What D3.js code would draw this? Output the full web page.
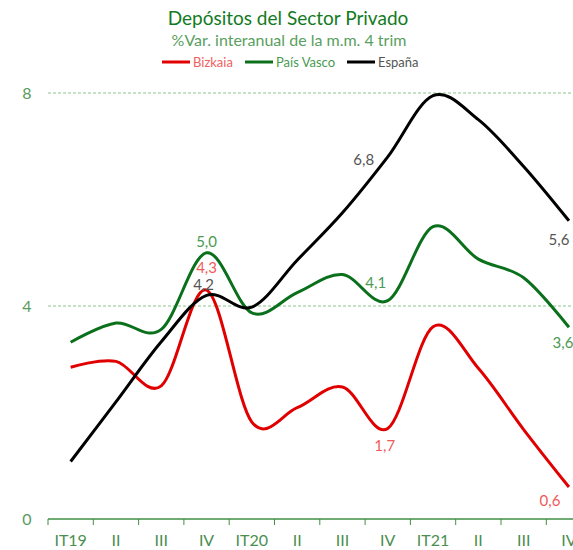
<!DOCTYPE html>
<html>
<head>
<meta charset="utf-8">
<style>
  body { margin: 0; background: #fff; }
  text { font-family: Lato, "Open Sans", sans-serif; }
</style>
</head>
<body>
<script src="https://d3js.org/d3.v7.min.js"></script>
<svg id="chart" width="573" height="550"></svg>
<script>
// trimestres
const quarters = ["IT19", "II", "III", "IV", "IT20", "II", "III", "IV", "IT21", "II", "III", "IV"]
const yTicks = [0, 4, 8]

// % var. interanual de la media movil 4 trim
const bizkaia   = [2.85, 2.96, 2.50, 4.30, 1.82, 2.09, 2.48, 1.70, 3.61, 2.83, 1.68, 0.60]
const paisVasco = [3.32, 3.68, 3.56, 5.00, 3.87, 4.25, 4.59, 4.10, 5.49, 4.88, 4.53, 3.60]
const espana    = [1.08, 2.20, 3.33, 4.20, 3.98, 4.86, 5.75, 6.80, 7.95, 7.50, 6.62, 5.60]

const red = "#e00000", green = "#0a701c", black = "#000000"

const svg = d3.select("#chart")

const xScale = d3.scaleBand().domain(d3.range(quarters.length)).range([48, 48 + 12 * 45.3])
const yScale = d3.scaleLinear().domain([0, 8]).range([519, 93])
const cx = i => xScale(i) + xScale.bandwidth() / 2

// grid
svg.append("g").selectAll("line.grid")
    .data(yTicks.filter(d => d > 0))
    .enter()
    .append("line")
    .attr("class", "grid")
    .attr("x1", 48).attr("x2", 573)
    .attr("y1", d => yScale(d)).attr("y2", d => yScale(d))
    .attr("stroke", "#8cc48c")
    .attr("stroke-dasharray", "3,2")
    .attr("stroke-width", 1)

// y labels
svg.append("g").selectAll("text.ylab")
    .data(yTicks)
    .enter()
    .append("text")
    .attr("class", "ylab")
    .attr("x", 27)
    .attr("y", d => yScale(d))
    .attr("dy", "0.35em")
    .attr("text-anchor", "middle")
    .attr("fill", "#5a9a5e")
    .style("font-size", "16px")
    .text(d => d)

// x axis
const xAxis = d3.axisBottom(xScale)
    .tickFormat(i => quarters[i])
    .tickSize(0)
const xAxisG = svg.append("g")
    .attr("transform", "translate(0," + yScale(0) + ")")
    .call(xAxis)
xAxisG.select("path").remove()
xAxisG.selectAll("text")
    .attr("y", 22)
    .attr("dy", "0.32em")
    .attr("fill", "#4a8f50")
    .style("font-size", "16px")
    .style("font-family", "Lato, sans-serif")

xAxisG.append("line")
    .attr("x1", xScale.range()[0]).attr("x2", xScale.range()[1])
    .attr("stroke", "#3f8f45").attr("stroke-width", 1.3)
xAxisG.selectAll("line.tk")
    .data(d3.range(quarters.length + 1))
    .enter()
    .append("line")
    .attr("class", "tk")
    .attr("x1", i => xScale.range()[0] + i * xScale.step())
    .attr("x2", i => xScale.range()[0] + i * xScale.step())
    .attr("y1", 0).attr("y2", 6)
    .attr("stroke", "#3f8f45").attr("stroke-width", 1)

// lines
const line = d3.line()
    .x((d, i) => cx(i))
    .y(d => yScale(d))
    .curve(d3.curveCardinal.tension(0))

const series = [
    { name: "Bizkaia", values: bizkaia, color: red },
    { name: "País Vasco", values: paisVasco, color: green },
    { name: "España", values: espana, color: black }
]
series.forEach(s => {
    svg.append("path")
        .attr("d", line(s.values))
        .attr("fill", "none")
        .attr("stroke", s.color)
        .attr("stroke-width", 3)
})

// data labels
const fmt = v => d3.format(".1f")(v).replace(".", ",")
const labels = [
    { vals: bizkaia, i: 3, dx: 0, dy: -22, color: "#f05a5a" },
    { vals: bizkaia, i: 7, dx: -3, dy: 17, color: "#f05a5a" },
    { vals: bizkaia, i: 11, dx: -19, dy: 14, color: "#f05a5a" },
    { vals: paisVasco, i: 3, dx: 0, dy: -11, color: "#4a9a52" },
    { vals: paisVasco, i: 7, dx: -12, dy: -18, color: "#4a9a52" },
    { vals: paisVasco, i: 11, dx: -6, dy: 15, color: "#4a9a52" },
    { vals: espana, i: 3, dx: -3, dy: -11, color: "#555555" },
    { vals: espana, i: 7, dx: -24, dy: 3, color: "#555555" },
    { vals: espana, i: 11, dx: -10, dy: 19, color: "#555555" }
]
svg.append("g").selectAll("text.dl")
    .data(labels)
    .enter()
    .append("text")
    .attr("class", "dl")
    .attr("x", d => cx(d.i) + d.dx)
    .attr("y", d => yScale(d.vals[d.i]) + d.dy)
    .attr("dy", "0.35em")
    .attr("text-anchor", "middle")
    .attr("fill", d => d.color)
    .style("font-size", "15px")
    .text(d => fmt(d.vals[d.i]))

// title
svg.append("text")
    .attr("x", 288).attr("y", 25)
    .attr("text-anchor", "middle")
    .attr("fill", "#137a24")
    .style("font-size", "19px")
    .text("Depósitos del Sector Privado")
svg.append("text")
    .attr("x", 289).attr("y", 46)
    .attr("text-anchor", "middle")
    .attr("fill", "#5aa060")
    .style("font-size", "16px")
    .text("%Var. interanual de la m.m. 4 trim")

// legend
const legendX = [162, 245, 347]
const legendText = ["#f06060", "#4a9a52", "#555555"]
series.forEach((s, k) => {
    svg.append("line")
        .attr("x1", legendX[k]).attr("x2", legendX[k] + 28)
        .attr("y1", 62).attr("y2", 62)
        .attr("stroke", s.color).attr("stroke-width", 3)
    svg.append("text")
        .attr("x", legendX[k] + 31).attr("y", 62)
        .attr("dy", "0.35em")
        .attr("fill", legendText[k])
        .style("font-size", "13px")
        .text(s.name)
})
</script>
</body>
</html>
